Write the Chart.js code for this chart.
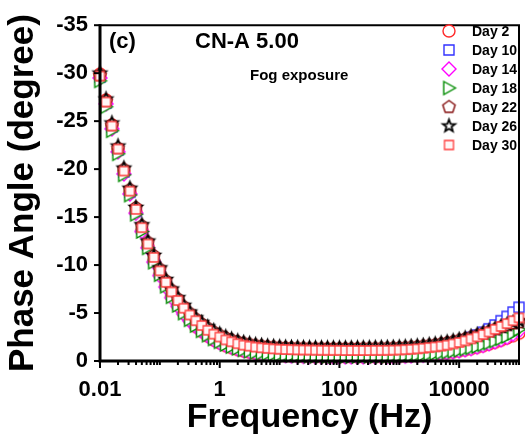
<!DOCTYPE html>
<html>
<head>
<meta charset="utf-8">
<script src="https://cdn.jsdelivr.net/npm/chart.js@4"></script>
<style>
  html, body { margin: 0; padding: 0; background: #fff; }
  canvas { display: block; }
</style>
</head>
<body>
<canvas id="phaseChart" width="525" height="440"></canvas>
<script>
// frequency points (Hz), 10 per decade
const frequencies = [
  0.01, 0.0126, 0.0158, 0.02, 0.0251, 0.0316, 0.0398, 0.0501, 0.0631, 0.0794,
  0.1, 0.126, 0.158, 0.2, 0.251, 0.316, 0.398, 0.501, 0.631, 0.794,
  1, 1.26, 1.58, 2, 2.51, 3.16, 3.98, 5.01, 6.31, 7.94,
  10, 12.6, 15.8, 20, 25.1, 31.6, 39.8, 50.1, 63.1, 79.4,
  100, 126, 158, 200, 251, 316, 398, 501, 631, 794,
  1000, 1260, 1580, 2000, 2510, 3160, 3980, 5010, 6310, 7940,
  10000, 12600, 15800, 20000, 25100, 31600, 39800, 50100, 63100, 79400,
  100000
];

// phase angle (degree) per exposure day
const day2 = [
  -29.9, -27.2, -24.6, -22.1, -19.8, -17.6, -15.6, -13.7, -12.0, -10.5,
  -9.1, -7.9, -6.8, -5.8, -5.0, -4.3, -3.6, -3.1, -2.6, -2.2,
  -1.9, -1.6, -1.4, -1.2, -1.05, -0.92, -0.82, -0.74, -0.68, -0.63,
  -0.59, -0.56, -0.54, -0.52, -0.5, -0.49, -0.48, -0.47, -0.46, -0.46,
  -0.45, -0.45, -0.45, -0.45, -0.45, -0.45, -0.46, -0.46, -0.47, -0.48,
  -0.5, -0.52, -0.55, -0.58, -0.62, -0.67, -0.73, -0.8, -0.88, -0.97,
  -1.07, -1.18, -1.3, -1.44, -1.6, -1.77, -1.96, -2.17, -2.4, -2.64, -2.9
];
const day10 = [
  -29.6, -26.9, -24.4, -22.0, -19.7, -17.6, -15.6, -13.8, -12.1, -10.6,
  -9.2, -8.0, -7.0, -6.1, -5.3, -4.6, -4.0, -3.5, -3.05, -2.65,
  -2.3, -2.02, -1.8, -1.6, -1.45, -1.33, -1.23, -1.15, -1.09, -1.04,
  -1.0, -0.97, -0.95, -0.93, -0.92, -0.91, -0.9, -0.9, -0.89, -0.89,
  -0.89, -0.89, -0.89, -0.9, -0.9, -0.91, -0.92, -0.93, -0.95, -0.97,
  -1.0, -1.04, -1.09, -1.15, -1.22, -1.3, -1.4, -1.52, -1.66, -1.82,
  -2.0, -2.2, -2.45, -2.7, -3.0, -3.35, -3.75, -4.2, -4.65, -5.1, -5.6
];
const day14 = [
  -29.5, -26.8, -24.2, -21.8, -19.5, -17.4, -15.4, -13.5, -11.8, -10.3,
  -8.9, -7.7, -6.6, -5.7, -4.9, -4.2, -3.6, -3.1, -2.6, -2.2,
  -1.9, -1.65, -1.45, -1.25, -1.1, -0.97, -0.86, -0.77, -0.7, -0.64,
  -0.59, -0.55, -0.52, -0.5, -0.48, -0.46, -0.45, -0.44, -0.43, -0.43,
  -0.42, -0.42, -0.42, -0.42, -0.42, -0.43, -0.43, -0.44, -0.45, -0.46,
  -0.48, -0.5, -0.53, -0.56, -0.6, -0.65, -0.71, -0.78, -0.86, -0.95,
  -1.05, -1.17, -1.3, -1.45, -1.62, -1.8, -2.0, -2.22, -2.46, -2.8, -3.15
];
const day18 = [
  -29.2, -26.5, -24.0, -21.6, -19.4, -17.3, -15.3, -13.5, -11.8, -10.3,
  -9.0, -7.8, -6.7, -5.8, -5.0, -4.3, -3.7, -3.15, -2.7, -2.3,
  -2.0, -1.72, -1.5, -1.32, -1.16, -1.03, -0.92, -0.83, -0.76, -0.7,
  -0.65, -0.61, -0.58, -0.55, -0.53, -0.51, -0.5, -0.49, -0.48, -0.48,
  -0.47, -0.47, -0.47, -0.47, -0.47, -0.48, -0.48, -0.49, -0.5, -0.51,
  -0.53, -0.56, -0.59, -0.63, -0.67, -0.72, -0.78, -0.85, -0.93, -1.02,
  -1.12, -1.24, -1.37, -1.52, -1.69, -1.88, -2.09, -2.32, -2.57, -2.9, -3.3
];
const day22 = [
  -29.8, -27.1, -24.6, -22.2, -20.0, -17.9, -16.0, -14.1, -12.4, -11.0,
  -9.6, -8.4, -7.4, -6.5, -5.7, -5.0, -4.4, -3.9, -3.45, -3.05,
  -2.72, -2.45, -2.22, -2.03, -1.88, -1.76, -1.66, -1.58, -1.52, -1.47,
  -1.43, -1.4, -1.38, -1.36, -1.35, -1.34, -1.33, -1.33, -1.32, -1.32,
  -1.32, -1.32, -1.32, -1.32, -1.33, -1.33, -1.34, -1.35, -1.36, -1.38,
  -1.4, -1.43, -1.47, -1.52, -1.58, -1.65, -1.73, -1.82, -1.93, -2.05,
  -2.19, -2.34, -2.51, -2.69, -2.89, -3.1, -3.32, -3.55, -3.75, -3.92, -4.05
];
const day26 = [
  -30.0, -27.3, -24.8, -22.4, -20.1, -18.0, -16.0, -14.2, -12.5, -11.0,
  -9.7, -8.5, -7.5, -6.6, -5.8, -5.1, -4.5, -4.0, -3.55, -3.15,
  -2.8, -2.52, -2.28, -2.08, -1.92, -1.8, -1.7, -1.62, -1.55, -1.5,
  -1.46, -1.43, -1.41, -1.39, -1.38, -1.37, -1.36, -1.36, -1.35, -1.35,
  -1.35, -1.35, -1.35, -1.36, -1.36, -1.37, -1.38, -1.39, -1.4, -1.42,
  -1.44, -1.47, -1.51, -1.56, -1.62, -1.69, -1.77, -1.86, -1.97, -2.09,
  -2.23, -2.38, -2.55, -2.73, -2.93, -3.14, -3.36, -3.59, -3.8, -4.0, -4.2
];
const day30 = [
  -29.7, -27.0, -24.5, -22.1, -19.8, -17.7, -15.8, -13.9, -12.2, -10.8,
  -9.4, -8.2, -7.2, -6.3, -5.5, -4.8, -4.2, -3.7, -3.2, -2.8,
  -2.5, -2.2, -2.0, -1.8, -1.65, -1.55, -1.45, -1.38, -1.32, -1.27,
  -1.23, -1.2, -1.18, -1.16, -1.15, -1.14, -1.13, -1.12, -1.12, -1.11,
  -1.11, -1.1, -1.1, -1.1, -1.1, -1.1, -1.11, -1.11, -1.12, -1.13,
  -1.15, -1.18, -1.22, -1.27, -1.33, -1.4, -1.47, -1.55, -1.65, -1.78,
  -1.93, -2.1, -2.3, -2.52, -2.76, -3.02, -3.3, -3.6, -3.9, -4.2, -4.5
];

const seriesLabels = ['Day 2', 'Day 10', 'Day 14', 'Day 18', 'Day 22', 'Day 26', 'Day 30'];
const seriesValues = [day2, day10, day14, day18, day22, day26, day30];

// x axis labelled ticks
const xTickValues = [0.01, 1, 100, 10000];
const xTickLabels = ['0.01', '1', '100', '10000'];

const FONT = '"Liberation Sans", Arial, sans-serif';

// open marker drawn on a small canvas, used as pointStyle and in the legend
function makeMarker(shape, stroke, fill, size, lw) {
  const pad = Math.ceil(lw) + 2;
  const dim = Math.ceil(size + pad * 2);
  const c = document.createElement('canvas');
  c.width = dim;
  c.height = dim;
  const g = c.getContext('2d');
  const cx = dim / 2, cy = dim / 2, r = size / 2;
  g.lineWidth = lw;
  g.strokeStyle = stroke;
  g.fillStyle = fill;
  g.beginPath();
  if (shape === 'circle') {
    g.arc(cx, cy, r, 0, Math.PI * 2);
  } else if (shape === 'square') {
    g.rect(cx - r, cy - r, size, size);
  } else if (shape === 'diamond') {
    g.moveTo(cx, cy - r); g.lineTo(cx + r, cy); g.lineTo(cx, cy + r); g.lineTo(cx - r, cy);
    g.closePath();
  } else if (shape === 'triangle') {
    g.moveTo(cx - r * 0.8, cy - r); g.lineTo(cx + r, cy); g.lineTo(cx - r * 0.8, cy + r);
    g.closePath();
  } else if (shape === 'pentagon' || shape === 'star') {
    const n = shape === 'star' ? 10 : 5;
    for (let i = 0; i < n; i++) {
      const a = -Math.PI / 2 + i * 2 * Math.PI / n;
      const rr = shape === 'star' && i % 2 ? r * 0.42 : r;
      const px = cx + rr * Math.cos(a), py = cy + rr * Math.sin(a);
      if (i === 0) g.moveTo(px, py); else g.lineTo(px, py);
    }
    g.closePath();
  }
  g.fill();
  g.stroke();
  return c;
}

const markers = [
  makeMarker('circle', 'rgb(255,40,40)', '#fff', 12, 1.4),
  makeMarker('square', 'rgb(50,50,255)', '#fff', 10, 1.4),
  makeMarker('diamond', 'rgb(255,0,255)', '#fff', 14, 1.4),
  makeMarker('triangle', 'rgb(0,140,0)', '#fff', 13, 1.4),
  makeMarker('pentagon', 'rgb(130,10,10)', '#fff', 13, 1.4),
  makeMarker('star', '#000', '#fff', 13, 1.8),
  makeMarker('square', 'rgb(255,60,60)', 'rgb(255,246,246)', 9, 1.3)
];

const datasets = seriesLabels.map((label, i) => ({
  label: label,
  data: frequencies.map((f, k) => ({ x: f, y: seriesValues[i][k] })),
  showLine: false,
  pointStyle: markers[i],
  pointRadius: 5,
  clip: false,
  order: seriesLabels.length - 1 - i // later days on top
}));

// frame, tick marks, text labels and legend
const decorPlugin = {
  id: 'decor',
  afterDatasetsDraw(chart) {
    const { ctx, chartArea: a, scales: { x, y } } = chart;
    ctx.save();
    ctx.strokeStyle = '#000';
    ctx.lineWidth = 2;
    ctx.beginPath();
    ctx.moveTo(a.left, a.top);
    ctx.lineTo(a.right, a.top);
    ctx.lineTo(a.right, a.bottom);
    ctx.stroke();
    ctx.lineWidth = 3;
    ctx.beginPath();
    ctx.moveTo(a.left, a.top - 1);
    ctx.lineTo(a.left, a.bottom);
    ctx.lineTo(a.right + 1, a.bottom);
    ctx.stroke();

    ctx.lineWidth = 2;
    y.ticks.forEach(t => {
      const py = y.getPixelForValue(t.value);
      ctx.beginPath();
      ctx.moveTo(a.left - 6, py);
      ctx.lineTo(a.left, py);
      ctx.stroke();
    });
    for (let e = -2; e <= 5; e++) {
      for (let m = 1; m <= 9; m++) {
        if (e === 5 && m > 1) break;
        const v = m * Math.pow(10, e);
        const major = m === 1 && xTickValues.some(t => Math.abs(t - v) / t < 1e-6);
        const px = x.getPixelForValue(v);
        ctx.beginPath();
        ctx.moveTo(px, a.bottom);
        ctx.lineTo(px, a.bottom + (major ? 7 : 4));
        ctx.stroke();
      }
    }
    ctx.restore();
  },
  afterDraw(chart) {
    const ctx = chart.ctx;
    ctx.save();
    ctx.fillStyle = '#000';
    ctx.textBaseline = 'middle';
    ctx.textAlign = 'left';
    ctx.font = 'bold 22px ' + FONT;
    ctx.fillText('(c)', 109, 42);
    ctx.fillText('CN-A 5.00', 195, 42);
    ctx.font = 'bold 15px ' + FONT;
    ctx.fillText('Fog exposure', 250, 76);

    // legend
    seriesLabels.forEach((label, i) => {
      const yy = 31 + i * 19;
      const m = markers[i];
      ctx.drawImage(m, 449 - m.width / 2, yy - m.height / 2);
      ctx.fillStyle = '#000';
      ctx.font = 'bold 14px ' + FONT;
      ctx.fillText(label, 472, yy + 1);
    });
    ctx.restore();
  }
};

Chart.defaults.font.family = FONT;
Chart.defaults.color = '#000';

new Chart(document.getElementById('phaseChart'), {
  type: 'line',
  data: { datasets: datasets },
  options: {
    responsive: false,
    animation: false,
    layout: { padding: { top: 17, right: 2, left: 0, bottom: 0 } },
    plugins: { legend: { display: false }, tooltip: { enabled: false } },
    scales: {
      x: {
        type: 'logarithmic',
        min: 0.01,
        max: 100000,
        afterBuildTicks: s => { s.ticks = xTickValues.map(v => ({ value: v })); },
        afterFit: s => { s.height = 79; },
        ticks: {
          callback: (v, i) => xTickLabels[i],
          font: { size: 22, weight: 'bold' },
          color: '#000',
          padding: 16,
          maxRotation: 0,
          autoSkip: false
        },
        grid: { display: false, drawTicks: false },
        border: { display: false },
        title: {
          display: true,
          text: 'Frequency (Hz)',
          color: '#000',
          font: { size: 34, weight: 'bold', lineHeight: 1 },
          padding: { top: 0, bottom: 5 }
        }
      },
      y: {
        reverse: true,
        min: -35,
        max: 0,
        afterFit: s => { s.width = 100; },
        ticks: {
          stepSize: 5,
          font: { size: 22, weight: 'bold' },
          color: '#000',
          padding: 12
        },
        grid: { display: false, drawTicks: false },
        border: { display: false },
        title: {
          display: true,
          text: 'Phase Angle (degree)',
          color: '#000',
          font: { size: 35, weight: 'bold', lineHeight: 1 },
          padding: { top: 6, bottom: 0 }
        }
      }
    }
  },
  plugins: [decorPlugin]
});
</script>
</body>
</html>
